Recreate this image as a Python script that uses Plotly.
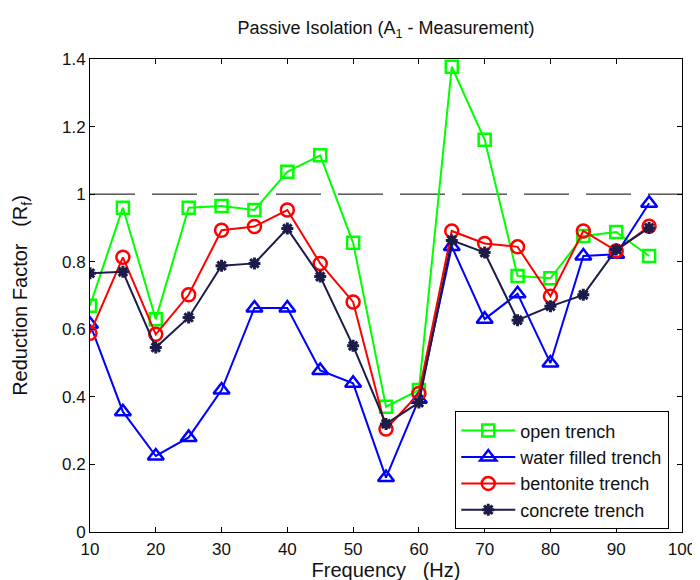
import plotly.graph_objects as go

freq = [10, 15, 20, 25, 30, 35, 40, 45, 50, 55, 60, 65, 70, 75, 80, 85, 90, 95]
open_trench = [0.67, 0.96, 0.63, 0.96, 0.965, 0.953, 1.066, 1.115, 0.856, 0.371, 0.42,
               1.377, 1.161, 0.758, 0.751, 0.876, 0.888, 0.817]
water_trench = [0.615, 0.356, 0.225, 0.28, 0.42, 0.663, 0.663, 0.478, 0.44, 0.161, 0.393,
                0.845, 0.63, 0.705, 0.5, 0.817, 0.822, 0.973]
bentonite_trench = [0.588, 0.813, 0.585, 0.702, 0.893, 0.904, 0.953, 0.795, 0.681, 0.305, 0.41,
                    0.891, 0.854, 0.844, 0.698, 0.891, 0.832, 0.905]
concrete_trench = [0.766, 0.77, 0.546, 0.635, 0.788, 0.795, 0.898, 0.756, 0.551, 0.32, 0.383,
                   0.863, 0.827, 0.627, 0.668, 0.702, 0.836, 0.9]
ref_x = [10, 100]
ref_y = [1, 1]
x_ticks = [10, 20, 30, 40, 50, 60, 70, 80, 90, 100]
y_ticks = [0, 0.2, 0.4, 0.6, 0.8, 1.0, 1.2, 1.4]
y_ticktext = ["0", "0.2", "0.4", "0.6", "0.8", "1", "1.2", "1.4"]

FONT = "Liberation Sans, Arial, Helvetica, sans-serif"
TXT = "#111111"

fig = go.Figure()
fig.add_trace(go.Scatter(x=ref_x, y=ref_y, mode="lines", showlegend=False,
                         line=dict(color="black", width=1, dash="45px,17px"),
                         hoverinfo="skip"))
fig.add_trace(go.Scatter(x=freq, y=open_trench, mode="lines+markers", name="open trench",
                         line=dict(color="#00ff00", width=2),
                         marker=dict(symbol="square-open", size=12, color="#00ff00",
                                     line=dict(width=2.5, color="#00ff00"))))
fig.add_trace(go.Scatter(x=freq, y=water_trench, mode="lines+markers", name="water filled trench",
                         line=dict(color="#0000ff", width=2),
                         marker=dict(symbol="triangle-up-open", size=14, color="#0000ff",
                                     line=dict(width=2.5, color="#0000ff"))))
fig.add_trace(go.Scatter(x=freq, y=bentonite_trench, mode="lines+markers", name="bentonite trench",
                         line=dict(color="#ff0000", width=2),
                         marker=dict(symbol="circle-open", size=13, color="#ff0000",
                                     line=dict(width=2.5, color="#ff0000"))))
fig.add_trace(go.Scatter(x=freq, y=concrete_trench, mode="lines+markers", name="concrete trench",
                         line=dict(color="#1c1c4a", width=2),
                         marker=dict(symbol="asterisk-open", size=10, color="#1c1c4a",
                                     line=dict(width=3, color="#1c1c4a"))))

axis_common = dict(showline=True, linecolor="black", linewidth=1, mirror="ticks",
                   ticks="inside", ticklen=5, tickcolor="black", tickwidth=1,
                   showgrid=False, zeroline=False,
                   tickfont=dict(family=FONT, size=17, color=TXT))

fig.update_layout(
    width=700, height=580,
    paper_bgcolor="white", plot_bgcolor="white",
    margin=dict(l=81, r=17, t=51, b=53),
    font=dict(family=FONT, color=TXT),
    title=dict(text="Passive Isolation (A<sub>1</sub> - Measurement)",
               x=0.5, xref="paper", xanchor="center",
               y=1 - 20 / 580, yref="container", yanchor="middle",
               font=dict(family=FONT, size=18, color=TXT)),
    xaxis=dict(range=[10, 100], tickvals=x_ticks, ticklabelstandoff=2,
               title=dict(text="Frequency\u00a0\u00a0\u00a0(Hz)", standoff=3,
                          font=dict(family=FONT, size=20, color=TXT)),
               **axis_common),
    yaxis=dict(range=[0, 1.4], tickvals=y_ticks, ticktext=y_ticktext,
               title=dict(text="Reduction Factor\u00a0\u00a0\u00a0(R<sub>f</sub>)", standoff=28,
                          font=dict(family=FONT, size=20, color=TXT)),
               **axis_common),
    legend=dict(x=0.617, y=0.255, xanchor="left", yanchor="top",
                bgcolor="white", bordercolor="black", borderwidth=1,
                font=dict(family=FONT, size=18, color=TXT),
                tracegroupgap=0, itemwidth=54),
    showlegend=True,
)

fig.write_html("out.html")
